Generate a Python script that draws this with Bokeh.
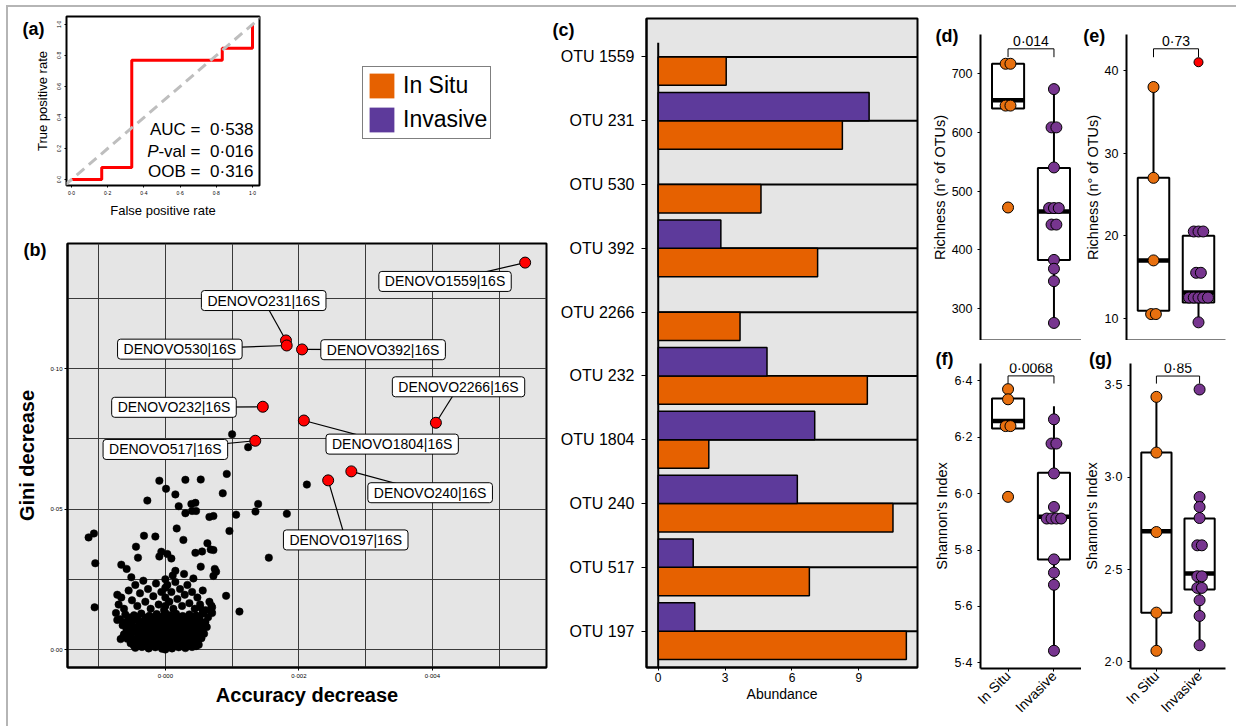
import math
from collections import Counter
import numpy as np
from bokeh.plotting import figure
from bokeh.layouts import row, column
from bokeh.models import (Range1d, FixedTicker, CustomJSTickFormatter, Label,
                          Legend, LegendItem, Slope)
from bokeh.embed import file_html
from bokeh.resources import INLINE
from bokeh.core.properties import value

FONT = "Liberation Sans"
ORANGE = "#E66100"
PURPLE = "#5D3A9B"
DOT_ORANGE = "#E8700F"
DOT_PURPLE = "#77358F"
PANEL_BG = "#E5E5E5"

# ---------------- (a) ROC ----------------
roc_fpr = [0.0, 0.167, 0.167, 0.333, 0.333, 0.833, 0.833, 1.0, 1.0]
roc_tpr = [0.0, 0.0, 0.077, 0.077, 0.769, 0.769, 0.846, 0.846, 1.0]
roc_stat_names = ["AUC =", "-val =", "OOB ="]
roc_stat_values = ["0·538", "0·016", "0·316"]

# ---------------- (b) importance scatter ----------------
# accuracy decrease in units of 1e-3, gini decrease in units of 1e-2
other_points = [
    (1.00, 7.66), (1.24, 7.20), (-0.07, 7.28), (0.45, 7.18), (0.92, 6.25), (-0.09, 6.01),
    (0.30, 6.04), (0.53, 6.05), (2.12, 5.87), (0.01, 5.72), (0.15, 5.52), (0.86, 5.56),
    (-0.27, 5.30), (0.20, 5.10), (0.39, 5.18), (0.45, 5.22), (0.30, 4.85), (0.40, 4.93),
    (0.46, 4.93), (0.66, 4.72), (0.72, 4.75), (1.06, 4.80), (1.35, 4.91), (1.39, 5.18),
    (1.82, 4.83), (0.17, 4.31), (0.96, 4.22), (-0.32, 4.05), (-0.15, 4.02), (-1.07, 4.13),
    (-1.15, 3.99), (0.27, 3.90), (-0.44, 3.66), (0.63, 3.78), (0.45, 3.44), (0.55, 3.49),
    (0.68, 3.56), (0.72, 3.54), (1.55, 3.27), (-1.05, 3.07), (-0.41, 3.27), (-0.06, 3.48),
    (0.03, 3.40), (0.09, 3.24), (-0.09, 3.31), (-0.66, 3.02), (-0.58, 2.87), (0.53, 2.95),
    (0.74, 2.87), (0.76, 2.77), (0.72, 2.62), (-0.51, 2.57), (0.28, 2.69), (0.15, 2.80),
    (0.11, 2.63), (0.42, 2.53), (0.91, 1.91), (1.11, 1.35), (-1.06, 1.50),
    (-0.74, 1.30), (-0.72, 1.05), (-0.67, 0.37), (-0.63, 0.45), (0.69, 1.56), (0.69, 1.35),
    (0.52, 1.50), (0.56, 1.32),
    # mid-level cloud
    (-0.72, 1.95), (-0.66, 1.85), (-0.70, 1.60), (-0.62, 1.45), (-0.55, 2.10), (-0.50, 1.75),
    (-0.45, 2.30), (-0.42, 1.55), (-0.38, 2.00), (-0.33, 2.45), (-0.30, 1.70), (-0.26, 2.15),
    (-0.22, 1.45), (-0.18, 1.90), (-0.14, 2.35), (-0.10, 1.60), (-0.06, 2.05), (-0.02, 1.40),
    (0.00, 2.50), (0.00, 2.20), (0.00, 1.85), (0.00, 1.55), (0.03, 2.30), (0.06, 1.70),
    (0.09, 2.05), (0.12, 1.45), (0.15, 2.40), (0.18, 1.80), (0.22, 2.15), (0.25, 1.55),
    (0.29, 1.95), (0.33, 2.30), (0.36, 1.65), (0.40, 2.05), (0.44, 1.45), (0.48, 1.85),
    (0.52, 1.60), (0.56, 2.10), (0.60, 1.40), (0.66, 1.70), (0.70, 1.50), (0.70, 1.30),
    # dense core
    (-0.60, 1.25), (-0.47, 1.22), (-0.36, 1.28), (-0.24, 1.20), (-0.13, 1.26), (-0.04, 1.18),
    (0.00, 1.30), (0.07, 1.22), (0.16, 1.27), (0.26, 1.19), (0.36, 1.25), (0.46, 1.21),
    (0.56, 1.28), (0.64, 1.15),
    (-0.54, 1.14), (-0.42, 1.16), (-0.30, 1.13), (-0.18, 1.15), (-0.08, 1.12), (0.03, 1.15),
    (0.11, 1.12), (0.21, 1.15), (0.31, 1.13), (0.41, 1.16), (0.51, 1.12),
    (-0.68, 1.08), (-0.56, 1.02), (-0.44, 1.07), (-0.33, 1.00), (-0.21, 1.06), (-0.10, 1.02),
    (0.00, 1.08), (0.04, 0.98), (0.13, 1.05), (0.22, 1.00), (0.31, 1.08), (0.41, 1.02),
    (0.50, 1.07), (0.60, 0.98),
    (-0.62, 0.97), (-0.50, 0.96), (-0.38, 0.98), (-0.26, 0.96), (-0.14, 0.98), (-0.03, 0.96),
    (0.08, 0.97), (0.18, 0.95), (0.27, 0.98), (0.36, 0.96), (0.46, 0.98), (0.55, 0.95),
    (-0.64, 0.86), (-0.52, 0.90), (-0.40, 0.84), (-0.29, 0.92), (-0.17, 0.86), (-0.07, 0.91),
    (0.00, 0.85), (0.09, 0.90), (0.18, 0.84), (0.27, 0.91), (0.37, 0.86), (0.47, 0.92),
    (0.55, 0.85), (0.62, 0.80),
    (-0.55, 0.80), (-0.43, 0.79), (-0.31, 0.81), (-0.20, 0.79), (-0.10, 0.81), (0.02, 0.79),
    (0.13, 0.80), (0.23, 0.81), (0.32, 0.79), (0.42, 0.81), (0.51, 0.79),
    (-0.58, 0.70), (-0.47, 0.74), (-0.36, 0.68), (-0.25, 0.73), (-0.14, 0.67), (-0.05, 0.72),
    (0.00, 0.66), (0.05, 0.75), (0.14, 0.69), (0.23, 0.74), (0.33, 0.68), (0.43, 0.72),
    (0.52, 0.66),
    (-0.53, 0.63), (-0.42, 0.62), (-0.30, 0.64), (-0.20, 0.62), (-0.10, 0.64), (0.09, 0.62),
    (0.19, 0.64), (0.28, 0.62), (0.38, 0.64), (0.47, 0.62), (0.56, 0.64),
    (-0.62, 0.54), (-0.51, 0.58), (-0.40, 0.52), (-0.29, 0.57), (-0.19, 0.51), (-0.09, 0.56),
    (0.00, 0.50), (0.03, 0.58), (0.11, 0.53), (0.20, 0.57), (0.29, 0.51), (0.39, 0.55),
    (0.49, 0.52), (0.58, 0.56),
    (-0.52, 0.46), (-0.41, 0.47), (-0.30, 0.45), (-0.19, 0.47), (-0.08, 0.45), (0.06, 0.46),
    (0.15, 0.47), (0.25, 0.45), (0.34, 0.47), (0.44, 0.45), (0.53, 0.47),
    (-0.57, 0.38), (-0.46, 0.35), (-0.35, 0.40), (-0.24, 0.34), (-0.13, 0.39), (-0.03, 0.35),
    (0.00, 0.40), (0.08, 0.36), (0.17, 0.41), (0.26, 0.35), (0.36, 0.39), (0.45, 0.34),
    (0.54, 0.40),
    (-0.50, 0.29), (-0.40, 0.30), (-0.29, 0.28), (-0.18, 0.30), (-0.07, 0.28), (0.10, 0.29),
    (0.20, 0.30), (0.29, 0.28), (0.39, 0.30), (0.48, 0.28),
    (-0.52, 0.22), (-0.41, 0.19), (-0.30, 0.24), (-0.20, 0.18), (-0.09, 0.23), (0.00, 0.20),
    (0.05, 0.25), (0.14, 0.19), (0.23, 0.24), (0.33, 0.18), (0.42, 0.22), (0.50, 0.17),
    (-0.47, 0.13), (-0.37, 0.12), (-0.26, 0.14), (-0.15, 0.12), (-0.04, 0.14), (0.08, 0.12),
    (0.18, 0.14), (0.27, 0.12), (0.37, 0.14), (0.46, 0.12),
    (-0.45, 0.06), (-0.35, 0.09), (-0.25, 0.04), (-0.15, 0.08), (-0.05, 0.03), (0.00, 0.07),
    (0.10, 0.04), (0.20, 0.08), (0.30, 0.05), (0.40, 0.09), (0.00, 0.00), (0.00, 0.15),
]
other_acc = [p[0] * 1e-3 for p in other_points]
other_gini = [p[1] * 1e-2 for p in other_points]

sel_ids = ["DENOVO1559|16S", "DENOVO231|16S", "DENOVO530|16S", "DENOVO392|16S",
           "DENOVO2266|16S", "DENOVO232|16S", "DENOVO1804|16S", "DENOVO517|16S",
           "DENOVO240|16S", "DENOVO197|16S"]
sel_acc = [v * 1e-3 for v in [5.39, 1.807, 1.818, 2.048, 4.053, 1.460, 2.075, 1.347, 2.786, 2.439]]
sel_gini = [v * 1e-2 for v in [13.77, 11.00, 10.82, 10.68, 8.07, 8.64, 8.15, 7.43, 6.34, 6.02]]
lab_acc = [v * 1e-3 for v in [4.19, 1.473, 0.217, 3.262, 4.392, 0.129, 3.398, 0.0, 3.967, 2.702]]
lab_gini = [v * 1e-2 for v in [13.10, 12.42, 10.69, 10.67, 9.35, 8.62, 7.31, 7.12, 5.58, 3.90]]

# ---------------- (c) abundance bars ----------------
otu_labels = ["OTU 1559", "OTU 231", "OTU 530", "OTU 392", "OTU 2266",
              "OTU 232", "OTU 1804", "OTU 240", "OTU 517", "OTU 197"]
abund_insitu = [3.05, 8.26, 4.61, 7.15, 3.67, 9.38, 2.27, 10.53, 6.78, 11.13]
abund_invasive = [0.0, 9.46, 0.0, 2.81, 0.0, 4.88, 7.02, 6.24, 1.57, 1.64]

# ---------------- (d)-(g) diversity ----------------
groups = ["In Situ", "Invasive"]
rich_insitu = [716, 716, 645, 645, 472]
rich_invasive = [673, 608, 608, 540, 471, 471, 471, 443, 443, 383, 368, 347, 276]
rich_box = [(640, 654, 716, 640, 716), (383, 465, 539, 276, 673)]  # q1, median, q3, lower, upper

rich16_insitu = [38, 27, 17, 10.5, 10.5]
rich16_invasive = [20.5, 20.5, 20.5, 15.5, 15.5, 12.5, 12.5, 12.5, 12.5, 12.5, 9.5]
rich16_outlier = [41]
rich16_box = [(10.9, 17.0, 27.0, 10.5, 38.0), (11.9, 13.1, 20.0, 9.4, 20.0)]

shan_insitu = [6.371, 6.335, 6.24, 6.24, 5.989]
shan_invasive = [6.264, 6.178, 6.178, 6.072, 5.953, 5.912, 5.912, 5.912, 5.912,
                 5.767, 5.72, 5.677, 5.443]
shan_box = [(6.231, 6.258, 6.338, 6.231, 6.371), (5.767, 5.918, 6.074, 5.443, 6.31)]

shan16_insitu = [3.437, 3.135, 2.704, 2.267, 2.060]
shan16_invasive = [3.477, 2.894, 2.84, 2.78, 2.632, 2.632, 2.464, 2.464, 2.401, 2.401,
                   2.334, 2.249, 2.090]
shan16_box = [(2.267, 2.708, 3.135, 2.060, 3.437), (2.392, 2.479, 2.777, 2.090, 2.894)]

p_values = ["0·014", "0·73", "0·0068", "0·85"]
p_bracket_y = [741.4, 42.63, 6.418, 3.550]
p_bracket_tip = [727.2, 41.61, 6.391, 3.509]


# ================= helpers =================
def make_fig(w, h, xr, yr, bl, br, bt, bb, bg=None):
    p = figure(width=w, height=h, x_range=xr, y_range=yr, output_backend="svg",
               toolbar_location=None, title=None,
               min_border_left=bl, min_border_right=br, min_border_top=bt, min_border_bottom=bb)
    p.border_fill_color = None
    p.background_fill_color = bg
    p.outline_line_color = None
    p.xgrid.visible = False
    p.ygrid.visible = False
    return p


def dot_fmt(n):
    return CustomJSTickFormatter(code="return tick.toFixed(%d).replace('.', '\u00b7');" % n)


def style_axis(ax, tick_size, label_size=None, tick_out=3, standoff=4, label_standoff=2,
               line_width=2, bold=False):
    ax.major_label_text_font = FONT
    ax.major_label_text_font_size = tick_size
    ax.major_label_text_color = "black"
    ax.major_tick_out = tick_out
    ax.major_tick_in = 0
    ax.major_tick_line_color = "black"
    ax.major_tick_line_width = 1
    ax.minor_tick_line_color = None
    ax.axis_line_color = "black"
    ax.axis_line_width = line_width
    ax.major_label_standoff = standoff
    ax.axis_label_text_font = FONT
    ax.axis_label_text_color = "black"
    ax.axis_label_text_font_style = "bold" if bold else "normal"
    if label_size:
        ax.axis_label_text_font_size = label_size
    ax.axis_label_standoff = label_standoff


def panel_label(p, text, x, y, side):
    # placed in a side panel (not clipped by the frame), positioned in data units
    p.add_layout(Label(x=x, y=y, text=text, text_font=FONT, text_font_size="18px",
                       text_font_style="bold", text_baseline="top", text_align="left",
                       text_color="black"), side)


def stack_x(center, vals, step=0.105):
    counts = Counter(vals)
    seen = {}
    xs = []
    for v in vals:
        n = counts[v]
        k = seen.get(v, 0)
        seen[v] = k + 1
        xs.append(center + (k - (n - 1) / 2) * step)
    return xs


def boxplot(p, xc, stats, vals, color, half=0.35):
    q1, med, q3, lo, hi = stats
    p.segment(x0=[xc, xc], y0=[lo, q3], x1=[xc, xc], y1=[q1, hi],
              line_color="black", line_width=2)
    p.quad(left=[xc - half], right=[xc + half], bottom=[q1], top=[q3],
           fill_color="white", line_color="black", line_width=2)
    p.segment(x0=[xc - half], x1=[xc + half], y0=[med], y1=[med],
              line_color="black", line_width=4.5)
    p.scatter(x=stack_x(xc, vals), y=vals, size=11, fill_color=color,
              line_color="black", line_width=1)


def diversity_panel(p, box, insitu, invasive, ptxt, by, bt, yticks, ylabel, fmt,
                    show_x, outlier=None):
    boxplot(p, 1, box[0], insitu, DOT_ORANGE)
    boxplot(p, 2, box[1], invasive, DOT_PURPLE)
    if outlier:
        p.scatter(x=[2] * len(outlier), y=outlier, size=9, fill_color="red",
                  line_color="black", line_width=1)
    p.segment(x0=[1, 1, 2], x1=[2, 1, 2], y0=[by, by, by], y1=[by, bt, bt],
              line_color="black", line_width=1)
    p.text(x=[1.5], y=[by], text=[ptxt], text_font=value(FONT), text_font_size="14px",
           text_align="center", text_baseline="bottom", text_color="black")
    p.yaxis.ticker = FixedTicker(ticks=yticks)
    if fmt is not None:
        p.yaxis.formatter = fmt
    p.yaxis.axis_label = ylabel
    style_axis(p.yaxis, "12.5px", "14.5px", tick_out=3, standoff=5, label_standoff=1)
    if show_x:
        p.xaxis.ticker = FixedTicker(ticks=[1, 2])
        p.xaxis.major_label_overrides = {1: groups[0], 2: groups[1]}
        style_axis(p.xaxis, "14px", tick_out=3, standoff=2)
        p.xaxis.major_label_orientation = math.pi / 4
    else:
        p.xaxis.ticker = FixedTicker(ticks=[])
        style_axis(p.xaxis, "12px", tick_out=0, standoff=0)


# ================= (a) =================
pa = make_fig(280, 220, Range1d(-0.0276, 1.0387), Range1d(-0.0385, 1.051), 66, 21, 16, 34,
              bg="white")
pa.outline_line_color = "black"
pa.outline_line_width = 2
pa.add_layout(Slope(gradient=1, y_intercept=0, line_color="#BEBEBE", line_width=3,
                    line_dash="10 6"))
pa.line(roc_fpr, roc_tpr, line_color="#FF0000", line_width=3)
for ax in (pa.xaxis, pa.yaxis):
    ax.ticker = FixedTicker(ticks=[0, 0.2, 0.4, 0.6, 0.8, 1.0])
    ax.formatter = dot_fmt(1)
    style_axis(ax, "5px", "13px", tick_out=2, standoff=2, label_standoff=4, line_width=1)
pa.xaxis.axis_label = "False positive rate"
pa.yaxis.axis_label = "True positive rate"
pa.yaxis.major_label_orientation = "vertical"
for i, yy in enumerate([56, 34, 14]):
    pa.add_layout(Label(x=187, y=yy, x_units="screen", y_units="screen",
                        text=roc_stat_values[i], text_font=FONT, text_font_size="17px",
                        text_align="right", text_baseline="middle", text_color="black"))
    pa.add_layout(Label(x=134, y=yy, x_units="screen", y_units="screen",
                        text=roc_stat_names[i], text_font=FONT, text_font_size="17px",
                        text_align="right", text_baseline="middle", text_color="black"))
pa.add_layout(Label(x=92, y=34, x_units="screen", y_units="screen", text="P",
                    text_font=FONT, text_font_size="17px", text_font_style="italic",
                    text_align="right", text_baseline="middle", text_color="black"))
panel_label(pa, "(a)", -0.2707, 1.0318, "left")

# ================= legend =================
pl = make_fig(270, 220, Range1d(0, 1), Range1d(0, 1), 0, 0, 16, 34)
pl.axis.visible = False
r_or = pl.hbar(y=[5], left=[0], right=[0], height=0.1, fill_color=ORANGE, line_color=None)
r_pu = pl.hbar(y=[5], left=[0], right=[0], height=0.1, fill_color=PURPLE, line_color=None)
leg = Legend(items=[LegendItem(label=groups[0], renderers=[r_or]),
                    LegendItem(label=groups[1], renderers=[r_pu])],
             location=(82, 46), margin=0, padding=3, spacing=3,
             glyph_width=31, glyph_height=31, label_standoff=6,
             label_text_font=FONT, label_text_font_size="23px", label_text_color="black",
             border_line_color="black", border_line_width=1, background_fill_color="white")
pl.add_layout(leg)

# ================= (b) =================
pb = make_fig(550, 506, Range1d(-1.466e-3, 5.71e-3), Range1d(-0.0064, 0.1445), 67, 4, 23, 59,
              bg=PANEL_BG)
pb.outline_line_color = "black"
pb.outline_line_width = 2
pb.xgrid.visible = True
pb.ygrid.visible = True
pb.xgrid.ticker = FixedTicker(ticks=[-0.001, 0.0, 0.001, 0.002, 0.003, 0.004, 0.005])
pb.ygrid.ticker = FixedTicker(ticks=[0.0, 0.025, 0.05, 0.075, 0.1, 0.125])
for g in (pb.xgrid, pb.ygrid):
    g.grid_line_color = "#3A3A3A"
    g.grid_line_width = 1
pb.xaxis.ticker = FixedTicker(ticks=[0.0, 0.002, 0.004])
pb.xaxis.formatter = dot_fmt(3)
pb.yaxis.ticker = FixedTicker(ticks=[0.0, 0.05, 0.10])
pb.yaxis.formatter = dot_fmt(2)
style_axis(pb.xaxis, "6px", "20px", tick_out=3, standoff=2, label_standoff=2, bold=True)
style_axis(pb.yaxis, "6px", "20px", tick_out=3, standoff=2, label_standoff=9, bold=True)
pb.xaxis.axis_label = "Accuracy decrease"
pb.yaxis.axis_label = "Gini decrease"
pb.segment(x0=sel_acc, y0=sel_gini, x1=lab_acc, y1=lab_gini, line_color="black", line_width=1.2)
pb.scatter(other_acc, other_gini, size=7.5, fill_color="black", line_color="black", line_width=0.5)
pb.scatter(sel_acc, sel_gini, size=11, fill_color="#FF0000", line_color="black", line_width=1)
for name, lx, ly in zip(sel_ids, lab_acc, lab_gini):
    pb.add_layout(Label(x=lx, y=ly, text=name, text_font=FONT, text_font_size="14px",
                        text_align="center", text_baseline="middle", text_color="black",
                        background_fill_color="white", border_line_color="black",
                        border_line_width=1, padding=(6, 2), border_radius=3))
panel_label(pb, "(b)", -2.125e-3, 0.14592, "above")

# ================= (c) =================
pc = make_fig(375, 726, Range1d(-0.525, 11.63), Range1d(9.57, -0.603), 96, 8, 18, 59,
              bg=PANEL_BG)
pc.outline_line_color = "black"
pc.outline_line_width = 2
yi = np.arange(len(otu_labels))
bar_h = 0.445
pc.segment(x0=np.zeros(len(yi)), y0=yi, x1=np.full(len(yi), pc.x_range.end), y1=yi,
           line_color="black", line_width=2)
pc.segment(x0=[0], y0=[yi[0] - bar_h / 2], x1=[0], y1=[pc.y_range.start],
           line_color="black", line_width=2)
pc.hbar(y=yi + bar_h / 2, left=0, right=abund_insitu, height=bar_h, fill_color=ORANGE,
        line_color="black", line_width=1.5)
inv = np.array(abund_invasive)
mask = inv > 0
pc.hbar(y=(yi - bar_h / 2)[mask], left=0, right=inv[mask], height=bar_h, fill_color=PURPLE,
        line_color="black", line_width=1.5)
pc.yaxis.ticker = FixedTicker(ticks=list(range(len(otu_labels))))
pc.yaxis.major_label_overrides = {i: t for i, t in enumerate(otu_labels)}
style_axis(pc.yaxis, "16px", tick_out=5, standoff=7)
pc.xaxis.ticker = FixedTicker(ticks=[0, 3, 6, 9])
style_axis(pc.xaxis, "12px", "14px", tick_out=3, standoff=2, label_standoff=1)
pc.xaxis.axis_label = "Abundance"
panel_label(pc, "(c)", -4.74, -0.587, "below")

# ================= (d)-(g) =================
pd_ = make_fig(156, 340, Range1d(0.4, 2.6), Range1d(246.2, 765.7), 55, 0, 34, 0, bg="white")
pe_ = make_fig(155, 340, Range1d(0.4, 2.6), Range1d(7.3, 44.36), 43, 11, 34, 0, bg="white")
pf_ = make_fig(156, 386, Range1d(0.4, 2.6), Range1d(5.380, 6.462), 55, 0, 23, 58, bg="white")
pg_ = make_fig(155, 386, Range1d(0.4, 2.6), Range1d(1.964, 3.618), 43, 11, 23, 58, bg="white")

diversity_panel(pd_, rich_box, rich_insitu, rich_invasive, p_values[0], p_bracket_y[0],
                p_bracket_tip[0], [300, 400, 500, 600, 700], "Richness (n° of OTUs)", None, False)
diversity_panel(pe_, rich16_box, rich16_insitu, rich16_invasive, p_values[1], p_bracket_y[1],
                p_bracket_tip[1], [10, 20, 30, 40], "Richness (n° of OTUs)", None, False,
                outlier=rich16_outlier)
diversity_panel(pf_, shan_box, shan_insitu, shan_invasive, p_values[2], p_bracket_y[2],
                p_bracket_tip[2], [5.4, 5.6, 5.8, 6.0, 6.2, 6.4], "Shannon's Index", dot_fmt(1), True)
diversity_panel(pg_, shan16_box, shan16_insitu, shan16_invasive, p_values[3], p_bracket_y[3],
                p_bracket_tip[3], [2.0, 2.5, 3.0, 3.5], "Shannon's Index", dot_fmt(1), True)
panel_label(pd_, "(d)", -0.580, 779.3, "above")
panel_label(pe_, "(e)", -0.559, 45.33, "above")
panel_label(pf_, "(f)", -0.580, 6.512, "above")
panel_label(pg_, "(g)", -0.559, 3.694, "above")

left = column(row(pa, pl, spacing=0), pb, spacing=0)
right = column(row(pd_, pe_, spacing=0), row(pf_, pg_, spacing=0), spacing=0)
root = row(left, pc, right, spacing=0)
root.styles = {
    "background-color": "white",
    "background-image": "linear-gradient(#b5b5b5, #b5b5b5), linear-gradient(#b5b5b5, #b5b5b5)",
    "background-size": "calc(100% - 6px) 2px, 2px calc(100% - 5px)",
    "background-position": "6px 5px, 6px 5px",
    "background-repeat": "no-repeat",
}

open("out.html", "w").write(file_html(root, INLINE))
